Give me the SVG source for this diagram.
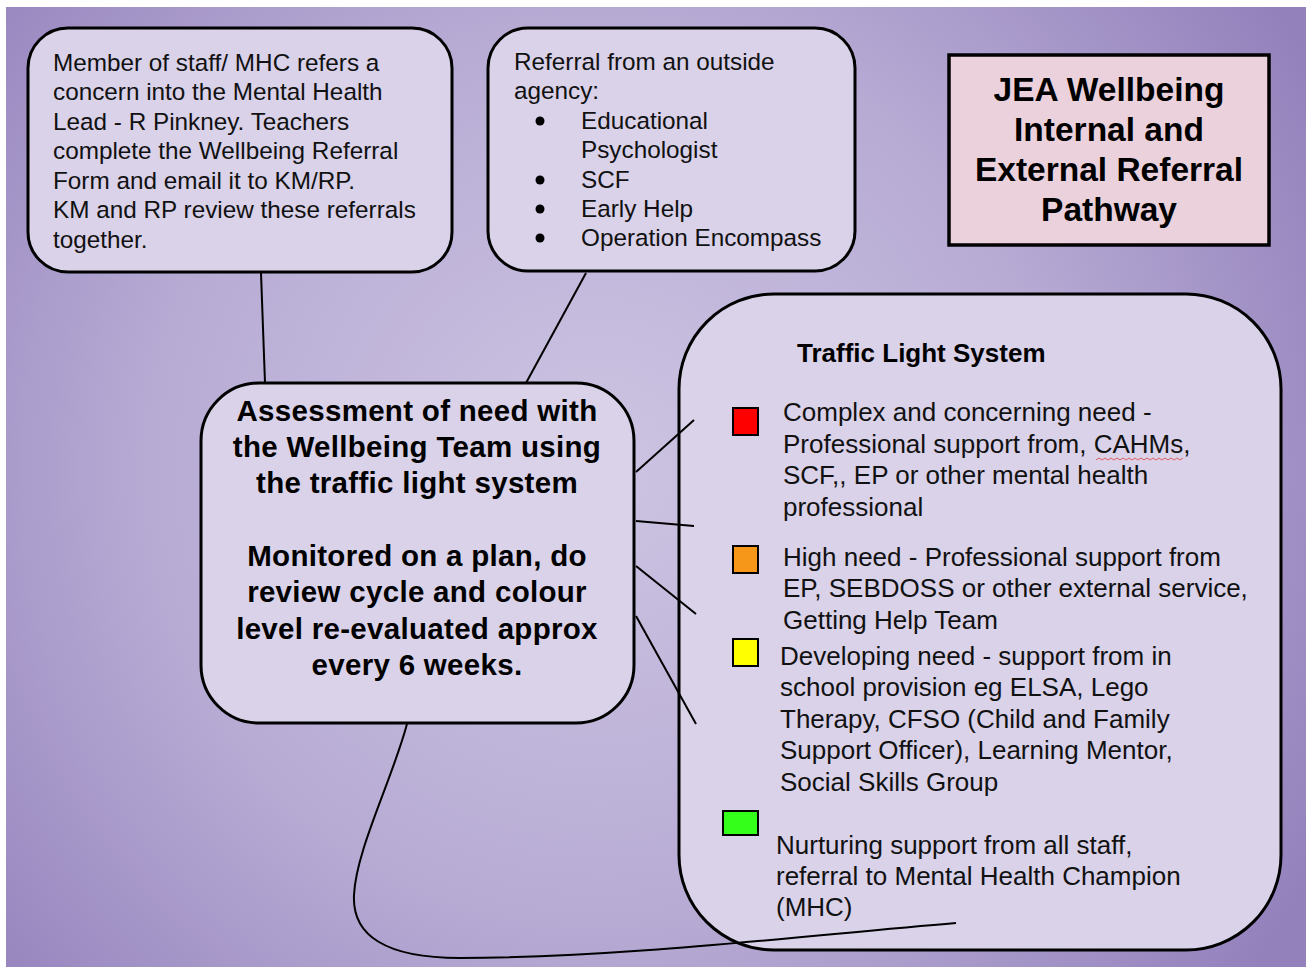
<svg xmlns="http://www.w3.org/2000/svg" width="1306" height="967" viewBox="0 0 1306 967">
<defs>
<radialGradient id="bg" gradientUnits="userSpaceOnUse" cx="600" cy="470" r="820">
<stop offset="0" stop-color="#cdc4e2"/>
<stop offset="0.55" stop-color="#b7abd4"/>
<stop offset="1" stop-color="#9381bc"/>
</radialGradient>
<style>
.box{fill:#d9d2e9;stroke:#000;stroke-width:3}
.t{font-family:"Liberation Sans",Arial,sans-serif;font-size:24.3px;fill:#111}
.tl{font-family:"Liberation Sans",Arial,sans-serif;font-size:26px;fill:#111}
.b{font-family:"Liberation Sans",Arial,sans-serif;font-weight:bold;fill:#000;text-anchor:middle}
.sq{stroke:#000;stroke-width:2}
.con{fill:none;stroke:#000;stroke-width:2}
</style>
</defs>
<rect x="0" y="0" width="1306" height="967" fill="#fff"/>
<rect x="6" y="7" width="1300" height="960" fill="url(#bg)"/>

<g id="node-internal">
<rect class="box" x="28" y="28" width="424" height="244" rx="40"/>
<text class="t" x="53" y="71">Member of staff/ MHC refers a</text>
<text class="t" x="53" y="100">concern into the Mental Health</text>
<text class="t" x="53" y="130">Lead - R Pinkney. Teachers</text>
<text class="t" x="53" y="159">complete the Wellbeing Referral</text>
<text class="t" x="53" y="189">Form and email it to KM/RP.</text>
<text class="t" x="53" y="218">KM and RP review these referrals</text>
<text class="t" x="53" y="248">together.</text>
</g>

<g id="node-external">
<rect class="box" x="488" y="28" width="367" height="243" rx="40"/>
<text class="t" x="514" y="70">Referral from an outside</text>
<text class="t" x="514" y="99">agency:</text>
<circle cx="540" cy="121" r="4.5"/>
<text class="t" x="581" y="129">Educational</text>
<text class="t" x="581" y="158">Psychologist</text>
<circle cx="540" cy="180" r="4.5"/>
<text class="t" x="581" y="188">SCF</text>
<circle cx="540" cy="209" r="4.5"/>
<text class="t" x="581" y="217">Early Help</text>
<circle cx="540" cy="238" r="4.5"/>
<text class="t" x="581" y="246">Operation Encompass</text>
</g>

<g id="node-title">
<rect x="949" y="55" width="320" height="190" fill="#ead1dc" stroke="#000" stroke-width="3.5"/>
<text class="b" x="1109" y="101" font-size="33.5">JEA Wellbeing</text>
<text class="b" x="1109" y="141" font-size="33.5">Internal and</text>
<text class="b" x="1109" y="181" font-size="33.5">External Referral</text>
<text class="b" x="1109" y="221" font-size="33.5">Pathway</text>
</g>

<g id="node-assessment">
<rect class="box" x="201" y="383" width="433" height="340" rx="58" stroke-width="2.5"/>
<text class="b" x="417" y="421" font-size="29.5" letter-spacing="0.3">Assessment of need with</text>
<text class="b" x="417" y="457" font-size="29.5" letter-spacing="0.3">the Wellbeing Team using</text>
<text class="b" x="417" y="493" font-size="29.5" letter-spacing="0.3">the traffic light system</text>
<text class="b" x="417" y="566" font-size="29.5" letter-spacing="0.3">Monitored on a plan, do</text>
<text class="b" x="417" y="602" font-size="29.5" letter-spacing="0.3">review cycle and colour</text>
<text class="b" x="417" y="639" font-size="29.5" letter-spacing="0.3">level re-evaluated approx</text>
<text class="b" x="417" y="675" font-size="29.5" letter-spacing="0.3">every 6 weeks.</text>
</g>

<g id="node-traffic">
<rect class="box" x="679" y="294" width="602" height="656" rx="95" stroke-width="2.5"/>
<text class="b" x="797" y="362" font-size="26" style="text-anchor:start">Traffic Light System</text>
<rect class="sq" x="733" y="408" width="25" height="27" fill="#ff0000"/>
<text class="tl" x="783" y="421">Complex and concerning need -</text>
<text class="tl" x="783" y="452.5">Professional support from, CAHMs,</text>
<text class="tl" x="783" y="484">SCF,, EP or other mental health</text>
<text class="tl" x="783" y="515.5">professional</text>
<path d="M1096,460 l3,-2 l3,2 l3,-2 l3,2 l3,-2 l3,2 l3,-2 l3,2 l3,-2 l3,2 l3,-2 l3,2 l3,-2 l3,2 l3,-2 l3,2 l3,-2 l3,2 l3,-2 l3,2 l3,-2 l3,2 l3,-2 l3,2 l3,-2 l3,2 l3,-2 l3,2 l3,-2" fill="none" stroke="#e06060" stroke-width="1"/>
<rect class="sq" x="733" y="546" width="25" height="27" fill="#f6971a"/>
<text class="tl" x="783" y="566">High need - Professional support from</text>
<text class="tl" x="783" y="597">EP, SEBDOSS or other external service,</text>
<text class="tl" x="783" y="629">Getting Help Team</text>
<rect class="sq" x="733" y="639" width="25" height="27" fill="#ffff00"/>
<text class="tl" x="780" y="665">Developing need - support from in</text>
<text class="tl" x="780" y="696">school provision eg ELSA, Lego</text>
<text class="tl" x="780" y="728">Therapy, CFSO (Child and Family</text>
<text class="tl" x="780" y="759">Support Officer), Learning Mentor,</text>
<text class="tl" x="780" y="791">Social Skills Group</text>
<rect class="sq" x="723" y="811" width="35" height="24" fill="#33ff1a"/>
<text class="tl" x="776" y="854">Nurturing support from all staff,</text>
<text class="tl" x="776" y="885">referral to Mental Health Champion</text>
<text class="tl" x="776" y="916">(MHC)</text>
</g>

<g id="connectors">
<line class="con" x1="261" y1="273" x2="265" y2="383"/>
<line class="con" x1="586" y1="273" x2="526" y2="383"/>
<line class="con" x1="636" y1="472" x2="694" y2="420"/>
<line class="con" x1="636" y1="521" x2="694" y2="526"/>
<line class="con" x1="636" y1="566" x2="696" y2="614"/>
<line class="con" x1="636" y1="616" x2="696" y2="724"/>
<path class="con" d="M407,724 C392,780 356,850 354,895 C352,935 385,958 460,958 C620,958 800,936 956,923"/>
</g>
</svg>
